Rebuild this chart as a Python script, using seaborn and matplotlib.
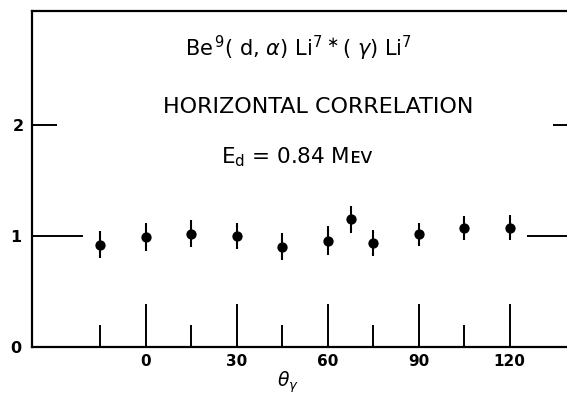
import matplotlib
matplotlib.use("Agg")
import matplotlib.pyplot as plt
import seaborn as sns
import pandas as pd

# ---- data ----
angles = [-15, 0, 15, 30, 45, 60, 67.5, 75, 90, 105, 120]
ratio = [0.92, 0.99, 1.02, 1.00, 0.905, 0.955, 1.15, 0.935, 1.015, 1.07, 1.075]
err = [0.12, 0.125, 0.12, 0.115, 0.12, 0.13, 0.12, 0.115, 0.105, 0.11, 0.115]
major_xticks = [0, 30, 60, 90, 120]
minor_xticks = [-15, 15, 45, 75, 105]
xtick_labels = ["0", "30", "60", "90", "120"]
title_lines = [r"Be$^{\,9}$( d, $\alpha$) Li$^{7\,\ast}$( $\gamma$) Li$^{7}$",
               "HORIZONTAL CORRELATION",
               r"E$_{\mathregular{d}}$ = 0.84 Mᴇᴠ"]

df = pd.DataFrame({"theta": angles, "ratio": ratio, "err": err})

sns.set_theme(style="ticks")
plt.rcParams["font.family"] = ["DejaVu Sans"]
plt.rcParams["text.color"] = "black"
plt.rcParams["axes.labelcolor"] = "black"
plt.rcParams["xtick.color"] = "black"
plt.rcParams["ytick.color"] = "black"

fig = plt.figure(figsize=(5.67, 3.98), dpi=100)
ax = fig.add_axes([32 / 567, (398 - 347.3) / 398, (578 - 32) / 567, (347.3 - 11) / 398])

ax.errorbar(df["theta"], df["ratio"], yerr=df["err"], fmt="none",
            ecolor="black", elinewidth=1.5, capsize=0, zorder=2)
sns.scatterplot(data=df, x="theta", y="ratio", ax=ax, color="black",
                s=55, marker="o", edgecolor="black", linewidth=0, zorder=3)

ax.set_xlim(-37.5, 142.5)
ax.set_ylim(0, 3.02)

for sp in ax.spines.values():
    sp.set_linewidth(1.6)
    sp.set_color("black")

ax.set_xticks(major_xticks)
ax.set_xticklabels(xtick_labels)
ax.set_xticks(minor_xticks, minor=True)
ax.tick_params(axis="x", which="major", direction="in", length=31, width=1.4,
               colors="black", labelsize=11, pad=5, top=False)
ax.tick_params(axis="x", which="minor", direction="in", length=16, width=1.4,
               colors="black", top=False)

ax.set_yticks([0, 1])
ax.set_yticklabels(["0", "1"])
ax.set_yticks([2], minor=True)
ax.set_yticklabels(["2"], minor=True)
ax.tick_params(axis="y", which="major", direction="in", length=37, width=1.4,
               colors="black", labelsize=11.5, pad=8, left=True, right=True)
ax.tick_params(axis="y", which="minor", direction="in", length=18, width=1.4,
               colors="black", labelsize=11.5, pad=6, left=True, right=True)
for lab in ax.get_xticklabels() + ax.get_yticklabels() + ax.get_yticklabels(minor=True):
    lab.set_fontweight("bold")

ax.set_xlabel(r"$\theta_\gamma$", fontsize=13.5, color="black")
ax.xaxis.set_label_coords(0.469, -0.118)
ax.xaxis.label.set_va("baseline")
ax.set_ylabel("")

ax.text(50.2, 2.61, title_lines[0], ha="center", va="baseline", fontsize=15, color="black")
ax.text(57, 2.10, title_lines[1], ha="center", va="baseline", fontsize=16, color="black")
ax.text(50, 1.65, title_lines[2], ha="center", va="baseline", fontsize=15.5, color="black")

fig.savefig("out.png", dpi=100)
